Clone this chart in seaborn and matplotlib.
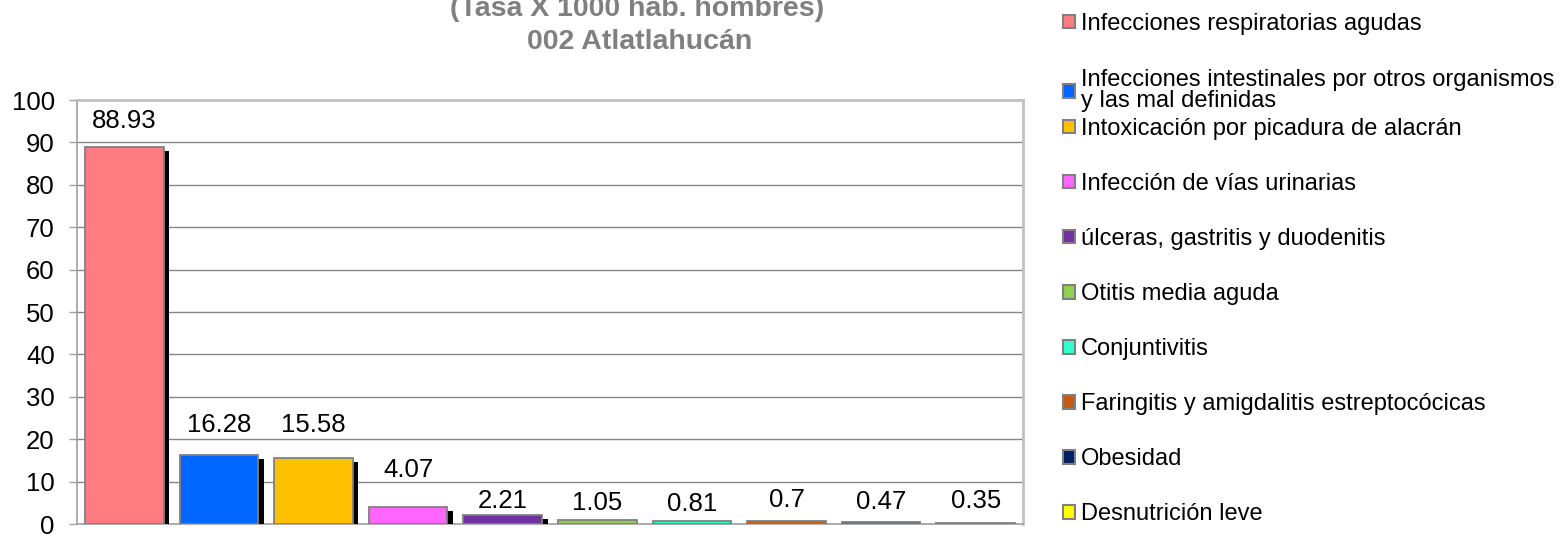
import matplotlib
matplotlib.use("Agg")
import matplotlib.pyplot as plt
import matplotlib.patheffects as pe
from matplotlib.patches import Patch
import seaborn as sns
import pandas as pd

# data
causas = [
    "Infecciones respiratorias agudas",
    "Infecciones intestinales por otros organismos\ny las mal definidas",
    "Intoxicación por picadura de alacrán",
    "Infección de vías urinarias",
    "úlceras, gastritis y duodenitis",
    "Otitis media aguda",
    "Conjuntivitis",
    "Faringitis y amigdalitis estreptocócicas",
    "Obesidad",
    "Desnutrición leve",
]
tasas = [88.93, 16.28, 15.58, 4.07, 2.21, 1.05, 0.81, 0.7, 0.47, 0.35]
colores = ["#FF7C80", "#0066FF", "#FFC000", "#FF66FF", "#7030A0",
           "#92D050", "#33FFCC", "#C55A11", "#002060", "#FFFF00"]
y_ticks = list(range(0, 101, 10))

# label offsets above each bar (points), excel put them a bit unevenly
label_pad = [10, 13, 15, 18, 1, 3.5, 3, 6.5, 6, 7]

sns.set_style("white")
plt.rcParams["font.family"] = ["Liberation Sans", "DejaVu Sans"]
plt.rcParams["text.color"] = "black"
plt.rcParams["ytick.labelcolor"] = "black"

df = pd.DataFrame({"causa": causas, "tasa": tasas})

fig = plt.figure(figsize=(15.66, 5.34), dpi=100)
ax = fig.add_axes([77 / 1566, 1 - 524 / 534, 946 / 1566, 424 / 534])

sns.barplot(data=df, x="causa", y="tasa", hue="causa", palette=colores,
            saturation=1, legend=False, width=0.83, edgecolor="#808080",
            linewidth=1.3, ax=ax, zorder=3)

for bar in ax.patches:
    bar.set_path_effects([pe.SimplePatchShadow(offset=(4, -3), shadow_rgbFace="black", alpha=1.0),
                          pe.Normal()])

# one container per hue level
for i, cont in enumerate(ax.containers):
    ax.bar_label(cont, labels=[f"{tasas[i]:g}"], padding=label_pad[i], fontsize=18.5, color="black")

ax.set_ylim(0, 100)
ax.set_yticks(y_ticks)
ax.set_xticks([])
ax.set_xlabel("")
ax.set_ylabel("")
ax.tick_params(axis="y", labelsize=18.5, length=6, width=1, color="#A0A0A0", left=True, pad=10)
ax.yaxis.grid(True, color="#868686", linewidth=1)
ax.set_axisbelow(True)
for side in ["top", "right"]:
    ax.spines[side].set_color("#C0C0C0")
    ax.spines[side].set_linewidth(2)
for side in ["left", "bottom"]:
    ax.spines[side].set_color("#A0A0A0")
    ax.spines[side].set_linewidth(1.2)

fig.text(637 / 1566, 1 - 9 / 534, "(Tasa X 1000 hab. hombres)", ha="center", va="center",
         fontsize=20.5, fontweight="bold", color="#808080")
fig.text(640 / 1566, 1 - 42 / 534, "002 Atlatlahucán", ha="center", va="center",
         fontsize=20.5, fontweight="bold", color="#808080")

# excel packs the legend unevenly: first two entries, then the rest evenly spaced
handles = [Patch(facecolor=c, edgecolor="#808080", linewidth=1.5) for c in colores]
leg_kw = dict(loc="upper left", frameon=False, fontsize=17, handlelength=0.5,
              handleheight=0.5, handletextpad=0.25, borderpad=0, borderaxespad=0)
leg1 = fig.legend(handles[:2], causas[:2], bbox_to_anchor=(1063 / 1566, 1 - 13 / 534),
                  labelspacing=1.45, **leg_kw)
leg1.get_texts()[1].set_linespacing(0.95)
fig.legend(handles[2:], causas[2:], bbox_to_anchor=(1063 / 1566, 1 - 118 / 534),
           labelspacing=1.40, **leg_kw)

fig.savefig("out.png", dpi=100)
